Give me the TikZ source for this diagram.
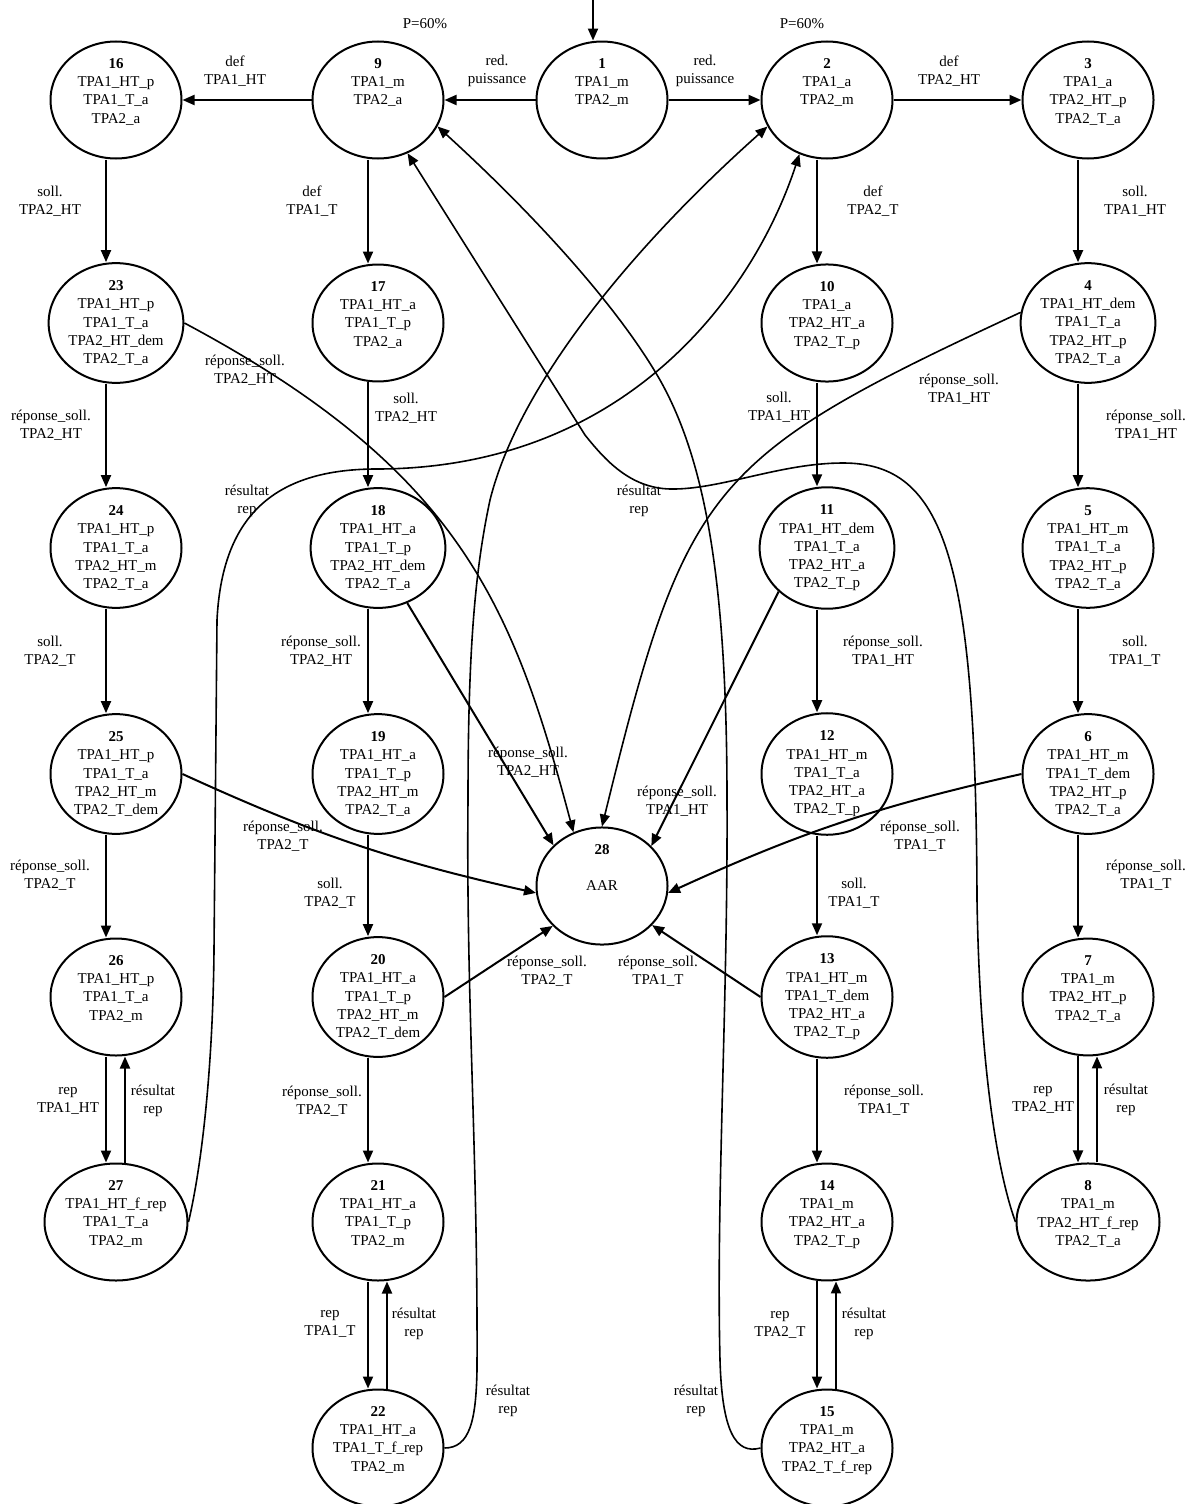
\documentclass[tikz,border=0pt]{standalone}
\usepackage{fontspec}
\setmainfont{Liberation Serif}
\usetikzlibrary{shapes.geometric,arrows.meta}

\begin{document}
\begin{tikzpicture}[x=0.5pt, y=-0.5pt,
    etat/.style={draw, ellipse, line width=1pt, minimum width=65.5pt, minimum height=56pt, inner sep=0pt, align=center, font=\fontsize{7.5}{9.1}\selectfont},
    trans/.style={-{Triangle[length=6pt,width=5pt]}, line width=1pt},
    courbe/.style={-{Triangle[length=6pt,width=5pt]}, line width=0.8pt},
    etiq/.style={align=center, inner sep=1pt, font=\fontsize{7.5}{9.1}\selectfont}]
    \useasboundingbox (0,0) rectangle (1195,1504);
    \node[etat] (n1) at (602,100) {\textbf{1}\\TPA1\_m\\TPA2\_m\\~\\~};
    \node[etat] (n2) at (827,100) {\textbf{2}\\TPA1\_a\\TPA2\_m\\~\\~};
    \node[etat] (n3) at (1088,100) {\textbf{3}\\TPA1\_a\\TPA2\_HT\_p\\TPA2\_T\_a\\~};
    \node[etat] (n4) at (1088,323) {\textbf{4}\\TPA1\_HT\_dem\\TPA1\_T\_a\\TPA2\_HT\_p\\TPA2\_T\_a};
    \node[etat] (n5) at (1088,548) {\textbf{5}\\TPA1\_HT\_m\\TPA1\_T\_a\\TPA2\_HT\_p\\TPA2\_T\_a};
    \node[etat] (n6) at (1088,774) {\textbf{6}\\TPA1\_HT\_m\\TPA1\_T\_dem\\TPA2\_HT\_p\\TPA2\_T\_a};
    \node[etat] (n7) at (1088,997) {\textbf{7}\\TPA1\_m\\TPA2\_HT\_p\\TPA2\_T\_a\\~};
    \node[etat] (n8) at (1088,1222) {\textbf{8}\\TPA1\_m\\TPA2\_HT\_f\_rep\\TPA2\_T\_a\\~};
    \node[etat] (n9) at (378,100) {\textbf{9}\\TPA1\_m\\TPA2\_a\\~\\~};
    \node[etat] (n10) at (827,323) {\textbf{10}\\TPA1\_a\\TPA2\_HT\_a\\TPA2\_T\_p\\~};
    \node[etat] (n11) at (827,548) {\textbf{11}\\TPA1\_HT\_dem\\TPA1\_T\_a\\TPA2\_HT\_a\\TPA2\_T\_p};
    \node[etat] (n12) at (827,774) {\textbf{12}\\TPA1\_HT\_m\\TPA1\_T\_a\\TPA2\_HT\_a\\TPA2\_T\_p};
    \node[etat] (n13) at (827,997) {\textbf{13}\\TPA1\_HT\_m\\TPA1\_T\_dem\\TPA2\_HT\_a\\TPA2\_T\_p};
    \node[etat] (n14) at (827,1222) {\textbf{14}\\TPA1\_m\\TPA2\_HT\_a\\TPA2\_T\_p\\~};
    \node[etat] (n15) at (827,1448) {\textbf{15}\\TPA1\_m\\TPA2\_HT\_a\\TPA2\_T\_f\_rep\\~};
    \node[etat] (n16) at (116,100) {\textbf{16}\\TPA1\_HT\_p\\TPA1\_T\_a\\TPA2\_a\\~};
    \node[etat] (n17) at (378,323) {\textbf{17}\\TPA1\_HT\_a\\TPA1\_T\_p\\TPA2\_a\\~};
    \node[etat] (n18) at (378,548) {\textbf{18}\\TPA1\_HT\_a\\TPA1\_T\_p\\TPA2\_HT\_dem\\TPA2\_T\_a};
    \node[etat] (n19) at (378,774) {\textbf{19}\\TPA1\_HT\_a\\TPA1\_T\_p\\TPA2\_HT\_m\\TPA2\_T\_a};
    \node[etat] (n20) at (378,997) {\textbf{20}\\TPA1\_HT\_a\\TPA1\_T\_p\\TPA2\_HT\_m\\TPA2\_T\_dem};
    \node[etat] (n21) at (378,1222) {\textbf{21}\\TPA1\_HT\_a\\TPA1\_T\_p\\TPA2\_m\\~};
    \node[etat] (n22) at (378,1448) {\textbf{22}\\TPA1\_HT\_a\\TPA1\_T\_f\_rep\\TPA2\_m\\~};
    \node[etat] (n23) at (116,323) {\textbf{23}\\TPA1\_HT\_p\\TPA1\_T\_a\\TPA2\_HT\_dem\\TPA2\_T\_a};
    \node[etat] (n24) at (116,548) {\textbf{24}\\TPA1\_HT\_p\\TPA1\_T\_a\\TPA2\_HT\_m\\TPA2\_T\_a};
    \node[etat] (n25) at (116,774) {\textbf{25}\\TPA1\_HT\_p\\TPA1\_T\_a\\TPA2\_HT\_m\\TPA2\_T\_dem};
    \node[etat] (n26) at (116,997) {\textbf{26}\\TPA1\_HT\_p\\TPA1\_T\_a\\TPA2\_m\\~};
    \node[etat] (n27) at (116,1222) {\textbf{27}\\TPA1\_HT\_f\_rep\\TPA1\_T\_a\\TPA2\_m\\~};
    \node[etat] (n28) at (602,886) {\textbf{28}\\~\\AAR\\~\\~};
    \node[etiq] (p9) at (425,24) {P=60\%};
    \node[etiq] (p2) at (802,24) {P=60\%};
    \node[etiq] (t9to16) at (235,71) {def\\TPA1\_HT};
    \node[etiq] (t1to9) at (497,71) {red.\\puissance};
    \node[etiq] (t1to2) at (705,71) {red.\\puissance};
    \node[etiq] (t2to3) at (949,71) {def\\TPA2\_HT};
    \node[etiq] (t16to23) at (50,201) {soll.\\TPA2\_HT};
    \node[etiq] (t9to17) at (312,201) {def\\TPA1\_T};
    \node[etiq] (t2to10) at (873,201) {def\\TPA2\_T};
    \node[etiq] (t3to4) at (1135,201) {soll.\\TPA1\_HT};
    \node[etiq] (t23to24) at (51,425) {réponse\_soll.\\TPA2\_HT};
    \node[etiq] (t23to28) at (245,370) {réponse\_soll.\\TPA2\_HT};
    \node[etiq] (t17to18) at (406,408) {soll.\\TPA2\_HT};
    \node[etiq] (t10to11) at (779,407) {soll.\\TPA1\_HT};
    \node[etiq] (t4to28) at (959,389) {réponse\_soll.\\TPA1\_HT};
    \node[etiq] (t4to5) at (1146,425) {réponse\_soll.\\TPA1\_HT};
    \node[etiq] (t27to2) at (247,501) {résultat\\rep};
    \node[etiq] (t8to9) at (639,501) {résultat\\rep};
    \node[etiq] (t24to25) at (50,651) {soll.\\TPA2\_T};
    \node[etiq] (t18to19) at (321,651) {réponse\_soll.\\TPA2\_HT};
    \node[etiq] (t11to12) at (883,651) {réponse\_soll.\\TPA1\_HT};
    \node[etiq] (t5to6) at (1135,651) {soll.\\TPA1\_T};
    \node[etiq] (t18to28) at (528,762) {réponse\_soll.\\TPA2\_HT};
    \node[etiq] (t11to28) at (677,801) {réponse\_soll.\\TPA1\_HT};
    \node[etiq] (t25to28) at (283,836) {réponse\_soll.\\TPA2\_T};
    \node[etiq] (t6to28) at (920,836) {réponse\_soll.\\TPA1\_T};
    \node[etiq] (t25to26) at (50,875) {réponse\_soll.\\TPA2\_T};
    \node[etiq] (t19to20) at (330,893) {soll.\\TPA2\_T};
    \node[etiq] (t12to13) at (854,893) {soll.\\TPA1\_T};
    \node[etiq] (t6to7) at (1146,875) {réponse\_soll.\\TPA1\_T};
    \node[etiq] (t20to28) at (547,971) {réponse\_soll.\\TPA2\_T};
    \node[etiq] (t13to28) at (658,971) {réponse\_soll.\\TPA1\_T};
    \node[etiq] (t26to27) at (68,1101) {rep\\TPA1\_HT};
    \node[etiq] (t27to26) at (153,1101) {résultat\\rep};
    \node[etiq] (t20to21) at (322,1101) {réponse\_soll.\\TPA2\_T};
    \node[etiq] (t13to14) at (884,1100) {réponse\_soll.\\TPA1\_T};
    \node[etiq] (t7to8) at (1043,1100) {rep\\TPA2\_HT};
    \node[etiq] (t8to7) at (1126,1100) {résultat\\rep};
    \node[etiq] (t21to22) at (330,1324) {rep\\TPA1\_T};
    \node[etiq] (t22to21) at (414,1324) {résultat\\rep};
    \node[etiq] (t14to15) at (780,1325) {rep\\TPA2\_T};
    \node[etiq] (t15to14) at (864,1324) {résultat\\rep};
    \node[etiq] (t22to2) at (508,1401) {résultat\\rep};
    \node[etiq] (t15to9) at (696,1401) {résultat\\rep};
    \coordinate (entree) at (593,0);
    \draw[trans] (entree) -- ([xshift=-4.5pt]n1.north);
    \draw[trans] (n1.west) -- (n9.east);
    \draw[trans] (n1.east) -- (n2.west);
    \draw[trans] (n9.west) -- (n16.east);
    \draw[trans] (n2.east) -- (n3.west);
    \draw[trans] ([xshift=-5pt]n16.south) -- ([xshift=-5pt]n23.north);
    \draw[trans] ([xshift=-5pt]n23.south) -- ([xshift=-5pt]n24.north);
    \draw[trans] ([xshift=-5pt]n24.south) -- ([xshift=-5pt]n25.north);
    \draw[trans] ([xshift=-5pt]n25.south) -- ([xshift=-5pt]n26.north);
    \draw[trans] ([xshift=-5pt]n26.south) -- ([xshift=-5pt]n27.north);
    \draw[trans] ([xshift=4.5pt]n27.north) -- ([xshift=4.5pt]n26.south);
    \draw[trans] ([xshift=-5pt]n9.south) -- ([xshift=-5pt]n17.north);
    \draw[trans] ([xshift=-5pt]n17.south) -- ([xshift=-5pt]n18.north);
    \draw[trans] ([xshift=-5pt]n18.south) -- ([xshift=-5pt]n19.north);
    \draw[trans] ([xshift=-5pt]n19.south) -- ([xshift=-5pt]n20.north);
    \draw[trans] ([xshift=-5pt]n20.south) -- ([xshift=-5pt]n21.north);
    \draw[trans] ([xshift=-5pt]n21.south) -- ([xshift=-5pt]n22.north);
    \draw[trans] ([xshift=4.5pt]n22.north) -- ([xshift=4.5pt]n21.south);
    \draw[trans] ([xshift=-5pt]n2.south) -- ([xshift=-5pt]n10.north);
    \draw[trans] ([xshift=-5pt]n10.south) -- ([xshift=-5pt]n11.north);
    \draw[trans] ([xshift=-5pt]n11.south) -- ([xshift=-5pt]n12.north);
    \draw[trans] ([xshift=-5pt]n12.south) -- ([xshift=-5pt]n13.north);
    \draw[trans] ([xshift=-5pt]n13.south) -- ([xshift=-5pt]n14.north);
    \draw[trans] ([xshift=-5pt]n14.south) -- ([xshift=-5pt]n15.north);
    \draw[trans] ([xshift=4.5pt]n15.north) -- ([xshift=4.5pt]n14.south);
    \draw[trans] ([xshift=-5pt]n3.south) -- ([xshift=-5pt]n4.north);
    \draw[trans] ([xshift=-5pt]n4.south) -- ([xshift=-5pt]n5.north);
    \draw[trans] ([xshift=-5pt]n5.south) -- ([xshift=-5pt]n6.north);
    \draw[trans] ([xshift=-5pt]n6.south) -- ([xshift=-5pt]n7.north);
    \draw[trans] ([xshift=-5pt]n7.south) -- ([xshift=-5pt]n8.north);
    \draw[trans] ([xshift=4.5pt]n8.north) -- ([xshift=4.5pt]n7.south);
    \draw[trans] (n18.-62) -- (n28.140);
    \draw[trans] (n11.222) -- (n28.39);
    \draw[trans] (n20.east) -- (n28.219);
    \draw[trans] (n13.west) -- (n28.322);
    \draw[trans] (n25.east) to[bend right=6] (n28.186);
    \draw[trans] (n6.west) to[bend right=6] (n28.354);
    \draw[courbe] (n23.east) .. controls (460,470) and (513,605) .. (n28.118);
    \draw[courbe] (n4.171) .. controls (707,458) and (686,484) .. (n28.north);
    \draw[courbe] (n27.east) .. controls (203,1160) and (213,1060) .. (214,950) -- (217,620) .. controls (222,520) and (270,468) .. (380,469) .. controls (630,467) and (755,290) .. (n2.243);
    \draw[courbe] (n22.east) .. controls (470,1448) and (476,1420) .. (477,1370) .. controls (478,1150) and (466,1000) .. (468,800) .. controls (468,650) and (475,570) .. (490,500) .. controls (520,380) and (640,240) .. (n2.204);
    \draw[courbe] (n15.west) .. controls (735,1455) and (722,1430) .. (720,1360) .. controls (716,1200) and (728,1000) .. (727,800) .. controls (727,580) and (705,460) .. (660,380) .. controls (620,310) and (540,220) .. (n9.-24);
    \draw[courbe] (n8.west) .. controls (1000,1180) and (980,1080) .. (977,900) .. controls (976,560) and (945,463) .. (843,463) .. controls (780,463) and (720,490) .. (670,489) .. controls (630,488) and (605,460) .. (585,435) -- (n9.-61);
\end{tikzpicture}
\end{document}
